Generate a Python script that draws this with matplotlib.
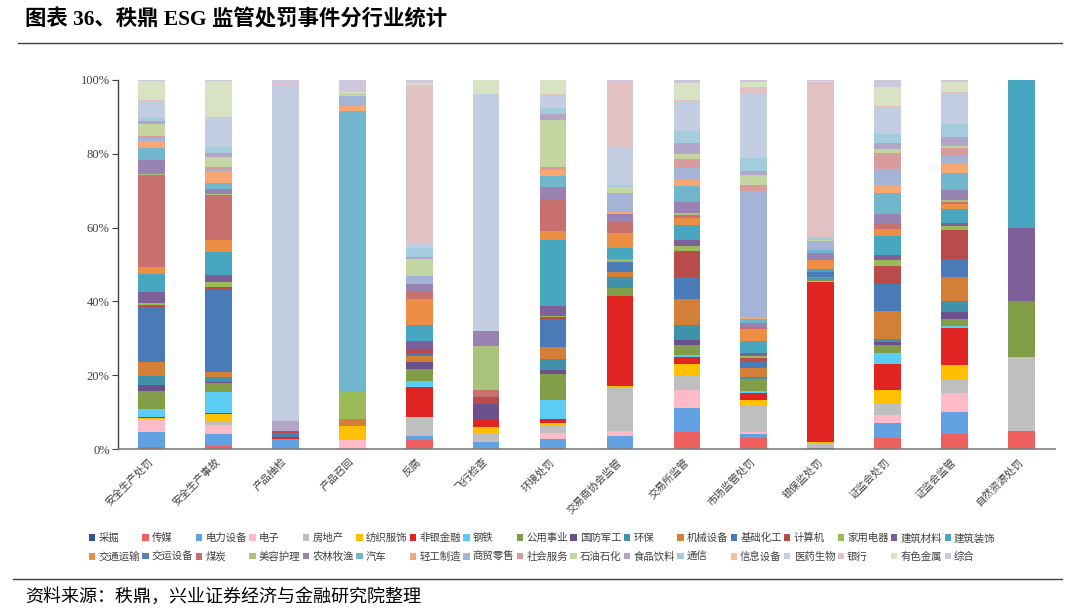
import matplotlib
matplotlib.use("Agg")
import matplotlib.pyplot as plt
from matplotlib.patches import Patch
from matplotlib.lines import Line2D
import numpy as np

plt.rcParams['font.family'] = ['Noto Sans CJK SC', 'DejaVu Sans']

# Bar categories (x axis)
categories = ["安全生产处罚", "安全生产事故", "产品抽检", "产品召回", "反腐", "飞行检查", "环境处罚",
              "交易商协会监管", "交易所监管", "市场监管处罚", "银保监处罚", "证监会处罚", "证监会监管", "自然资源处罚"]

# Industries (stack order = legend order)
industries = ["采掘", "传媒", "电力设备", "电子", "房地产", "纺织服饰", "非银金融", "钢铁", "公用事业", "国防军工",
              "环保", "机械设备", "基础化工", "计算机", "家用电器", "建筑材料", "建筑装饰", "交通运输", "交运设备",
              "煤炭", "美容护理", "农林牧渔", "汽车", "轻工制造", "商贸零售", "社会服务", "石油石化", "食品饮料",
              "通信", "信息设备", "医药生物", "银行", "有色金属", "综合"]

colors = ["#2E5597", "#EE5F5F", "#62A1E2", "#FFBAC8", "#BFBFBF", "#FFC000", "#E02422", "#5BCDF4", "#819D47",
          "#6B508B", "#3F92A9", "#D37F38", "#4A7BB7", "#B94C4A", "#9BBB59", "#7D5F9A", "#48A6C0", "#EC8E43",
          "#5A7FB5", "#C7706E", "#A8C47C", "#9983B2", "#72B6CE", "#F8A672", "#A3B4D6", "#D89C9C", "#C3D5A0",
          "#B3A5C7", "#A3CCDC", "#FBBD9E", "#C3CEE2", "#E2C1C3", "#D7E3C3", "#CEC6DC"]

# Share (%) of each industry within each bar, in industry order
safety_penalty = [0, 0.5, 4.1, 3.6, 0, 0.3, 0.3, 2.2, 4.9, 1.5, 2.4, 4.0, 14.8, 0.5, 0.5, 3.2, 4.9, 1.8, 0, 25.1,
                  0.2, 3.9, 3.2, 2.0, 0.7, 0.5, 3.4, 0.7, 0.9, 0.2, 4.5, 0.2, 5.0, 0.4]
safety_accident = [0, 0.7, 3.3, 2.4, 1.1, 1.9, 0.5, 5.7, 2.3, 0.4, 1.2, 1.3, 22.6, 0.5, 1.4, 2.1, 6.2, 3.3, 0, 12.1,
                   0.3, 1.5, 1.6, 2.9, 0.5, 0.9, 2.7, 1.1, 1.7, 0, 7.9, 0.2, 9.6, 0.4]
product_check = [0, 0, 2.6, 0, 0, 0, 0.7, 0, 0, 0, 0, 0, 0.9, 0.4, 0, 0.4, 0, 0, 0, 0,
                 0, 0, 0, 0, 0, 0, 0, 2.7, 0, 0, 90.8, 0.3, 0, 1.1]
product_recall = [0, 0, 0, 2.5, 0, 3.6, 0, 0, 0, 0, 0, 2.0, 0, 0, 7.3, 0, 0, 0.3, 0, 0,
                  0, 0, 75.7, 1.5, 2.7, 0, 0.7, 0, 0, 0, 0, 0, 0.4, 3.2]
anti_corruption = [0, 2.4, 1.1, 0, 5.1, 0, 8.1, 1.8, 3.1, 2.1, 0, 1.4, 0.7, 1.3, 0, 2.1, 4.4, 7.2, 0, 1.8,
                   0, 2.2, 0, 0, 2.2, 0, 4.5, 0.5, 2.4, 0, 1.3, 43.1, 0.6, 0.7]
flight_check = [0, 0, 2.0, 0, 2.0, 2.0, 2.0, 0, 0, 4.1, 0, 0, 0, 1.9, 0, 0, 0, 0, 0, 2.0,
                12.0, 4.1, 0, 0, 0, 0, 0, 0, 0, 0, 64.2, 0, 3.8, 0]
environment = [0, 0.4, 2.4, 1.5, 2.2, 0.5, 1.0, 5.2, 7.1, 1.1, 3.0, 3.2, 7.7, 0.4, 0.3, 2.6, 17.9, 2.5, 0, 8.8,
               0, 3.1, 2.9, 1.7, 0, 0.9, 12.8, 1.4, 1.6, 0, 3.3, 0.5, 3.9, 0]
nafmii = [0, 0, 3.5, 1.4, 11.5, 0.7, 24.3, 0, 2.2, 0, 2.8, 1.5, 2.8, 0, 0.6, 0, 3.0, 4.2, 0, 2.9,
          0, 2.2, 0, 0.6, 5.0, 0, 1.6, 0, 0.6, 0, 10.0, 17.9, 0, 0.5]
exchange = [0, 4.5, 6.5, 5.0, 4.2, 2.8, 2.0, 0.5, 2.7, 1.5, 3.9, 7.0, 6.1, 7.0, 1.4, 1.7, 3.9, 2.0, 0, 0.9,
            0.5, 3.0, 4.3, 2.0, 3.0, 2.3, 1.4, 3.1, 3.2, 0, 8.2, 0.2, 4.5, 0.9]
market_reg = [0, 3.1, 0.9, 0.6, 7.2, 1.4, 2.1, 0.3, 3.3, 0, 0.7, 2.5, 1.7, 0.9, 0.5, 0.9, 3.3, 3.1, 0, 0.7,
              0, 0.9, 1.1, 0.5, 34.4, 1.4, 2.9, 1.1, 3.4, 0, 17.8, 1.4, 1.5, 0.5]
cbirc = [0.4, 0, 0, 0, 1.1, 0.3, 43.3, 0.5, 0.3, 0, 0.4, 0.3, 1.2, 0, 0, 0, 0.9, 2.6, 0, 0,
         0, 1.8, 0.7, 0, 2.4, 0, 0.5, 0, 0.7, 0, 0, 42.0, 0.3, 0.2]
csrc_penalty = [0, 3.0, 4.1, 2.1, 3.3, 3.4, 7.1, 2.9, 2.3, 0.9, 0.6, 7.7, 7.3, 4.9, 1.6, 1.4, 5.2, 1.8, 0, 1.6,
                0, 2.4, 5.9, 2.0, 4.3, 4.3, 1.1, 1.6, 2.5, 0, 7.4, 0.3, 5.2, 1.8]
csrc_supervision = [0, 4.0, 6.1, 5.2, 3.6, 3.9, 10.1, 0.5, 1.9, 1.7, 3.2, 6.4, 5.0, 7.7, 1.1, 0.9, 3.8, 1.4, 0, 0.5,
                    0.4, 2.9, 4.5, 2.5, 2.2, 2.0, 0.7, 2.4, 3.5, 0, 8.1, 0.6, 2.7, 0.5]
natural_res = [0, 5.0, 0, 0, 20.0, 0, 0, 0, 15.0, 0, 0, 0, 0, 0, 0, 20.0, 40.0, 0, 0, 0,
               0, 0, 0, 0, 0, 0, 0, 0, 0, 0, 0, 0, 0, 0]

bars = [safety_penalty, safety_accident, product_check, product_recall, anti_corruption, flight_check,
        environment, nafmii, exchange, market_reg, cbirc, csrc_penalty, csrc_supervision, natural_res]

M = np.array(bars, dtype=float)
M = M / M.sum(axis=1, keepdims=True)  # 100% stacked

fig = plt.figure(figsize=(10.8, 6.14), dpi=100)
ax = fig.add_axes([118 / 1080, 165 / 614, 937 / 1080, 369 / 614])

x = np.arange(len(categories))
bottom = np.zeros(len(categories))
for j, ind in enumerate(industries):
    ax.bar(x, M[:, j], width=0.4, bottom=bottom, color=colors[j], linewidth=0)
    bottom += M[:, j]

ax.set_xlim(-0.5, len(categories) - 0.5)
ax.set_ylim(0, 1)
ax.set_yticks([0, 0.2, 0.4, 0.6, 0.8, 1.0])
ax.set_yticklabels(["0%", "20%", "40%", "60%", "80%", "100%"], family='Liberation Serif', fontsize=9,
                   color='#404040')
ax.tick_params(axis='y', direction='out', length=4, width=0.8, color='#404040', pad=2)
ax.set_xticks(x)
ax.set_xticklabels(categories, rotation=45, ha='right', va='center', rotation_mode='anchor',
                   fontsize=7.5, color='#404040')
ax.tick_params(axis='x', length=0, pad=8)
for s in ['top', 'right']:
    ax.spines[s].set_visible(False)
ax.spines['left'].set_color('#404040')
ax.spines['bottom'].set_color('#808080')
ax.spines['left'].set_linewidth(1.0)
ax.spines['bottom'].set_linewidth(1.2)

# Legend: 17 columns x 2 rows, row-major order
handles = [Patch(facecolor=c, edgecolor='none') for c in colors]
n = len(industries)
half = n // 2
order = []
for k in range(half):
    order += [k, k + half]
leg = fig.legend([handles[i] for i in order], [industries[i] for i in order], ncol=half,
                 loc='upper left', bbox_to_anchor=(89 / 1080, 1 - 533 / 614), frameon=False,
                 fontsize=7.5, handlelength=0.6, handleheight=0.6, handletextpad=0.3,
                 columnspacing=0.25, labelspacing=0.8, borderpad=0, borderaxespad=0)
for t in leg.get_texts():
    t.set_color('#404040')

# Title and rules
fig.text(25 / 1080, 1 - 20 / 614, "图表 36、秩鼎 ESG 监管处罚事件分行业统计", fontsize=15.4, fontweight='bold',
         family=['Liberation Serif', 'Noto Sans CJK SC'], va='center', ha='left', color='black')
fig.add_artist(Line2D([18 / 1080, 1062 / 1080], [1 - 43 / 614, 1 - 43 / 614], color='#404040', linewidth=1.0))
fig.add_artist(Line2D([13 / 1080, 1062 / 1080], [1 - 579 / 614, 1 - 579 / 614], color='#404040', linewidth=1.0))
fig.text(25 / 1080, 1 - 597 / 614, "资料来源：秩鼎，兴业证券经济与金融研究院整理", fontsize=13,
         va='center', ha='left', color='black')

fig.savefig("out.png", dpi=100)
